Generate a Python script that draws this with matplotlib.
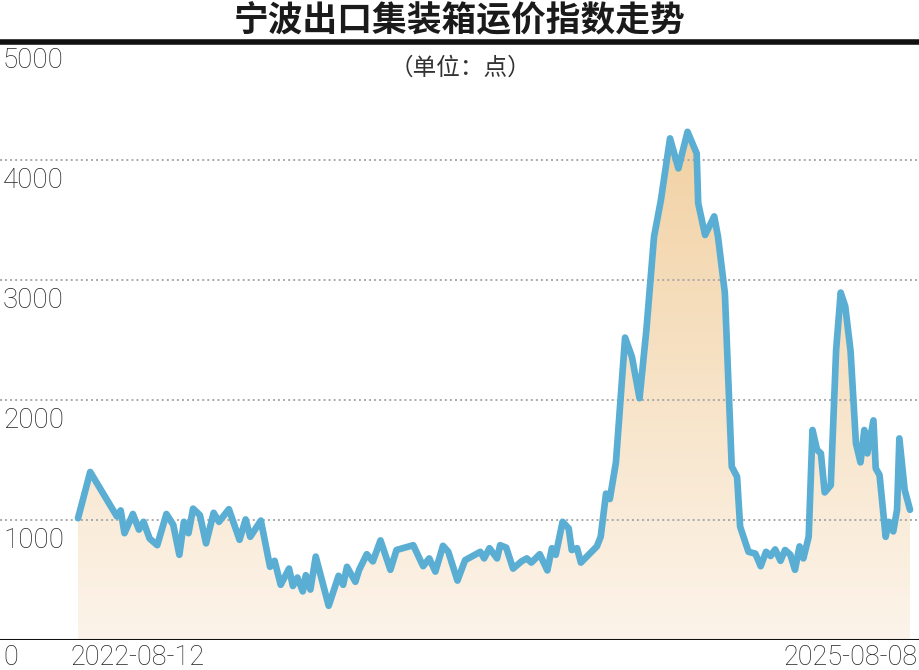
import numpy as np
import matplotlib
matplotlib.use('Agg')
import matplotlib.pyplot as plt
from matplotlib.colors import LinearSegmentedColormap
from matplotlib.lines import Line2D

# days after 2022-08-12 and index value (points)
days = [0, 16, 33, 51, 56, 61, 72, 80, 86, 94, 104, 116, 125, 133, 139, 145, 151, 160,
        168, 178, 185, 198, 212, 220, 226, 240, 252, 258, 266, 277, 282, 288, 295, 299,
        305, 312, 329, 342, 348, 353, 364, 369, 379, 387, 397, 410, 418, 440, 453, 461,
        469, 479, 486, 498, 508, 528, 533, 540, 550, 554, 562, 571, 582, 589, 595, 606,
        616, 622, 627, 636, 644, 648, 655, 660, 681, 686, 693, 698, 706, 718, 727, 737,
        746, 756, 765, 777, 788, 800, 812, 814, 823, 835, 840, 849, 858, 865, 869, 880,
        889, 896, 903, 909, 915, 922, 928, 935, 941, 947, 952, 959, 964, 970, 975, 980,
        988, 995, 1001, 1007, 1014, 1021, 1027, 1032, 1036, 1044, 1047, 1052, 1060, 1064,
        1070, 1075, 1078, 1085, 1092]
index_values = [1015, 1400, 1220, 1030, 1080, 890, 1050, 920, 985, 845, 790, 1050, 960, 710,
                985, 890, 1095, 1040, 805, 1060, 985, 1090, 835, 1005, 860, 995, 610, 660,
                460, 595, 450, 520, 405, 540, 420, 695, 285, 535, 460, 610, 485, 585, 715,
                655, 830, 585, 750, 790, 615, 680, 570, 785, 735, 495, 665, 735, 680, 765,
                680, 790, 770, 595, 655, 680, 645, 715, 580, 765, 710, 985, 930, 750, 765,
                645, 780, 860, 1220, 1175, 1480, 2520, 2360, 2015, 2585, 3360, 3665, 4180,
                3930, 4235, 4055, 3640, 3375, 3530, 3360, 2890, 1445, 1360, 945, 735, 720,
                615, 735, 700, 755, 660, 750, 710, 585, 780, 680, 860, 1750, 1585, 1555,
                1230, 1290, 2415, 2895, 2780, 2405, 1640, 1480, 1750, 1555, 1830, 1430, 1375,
                860, 985, 905, 1085, 1680, 1250, 1085]
y_ticks = [0, 1000, 2000, 3000, 4000, 5000]
date_labels = ['2022-08-12', '2025-08-08']
title = '宁波出口集装箱运价指数走势'
unit = '（单位：点）'

line_color = '#5aaed3'
num_font = 'Roboto'

fig = plt.figure(figsize=(9.2, 6.7), dpi=100)
ax = fig.add_axes([0, 30 / 670, 1, 600 / 670])
ax.axis('off')

x = np.array(days)
y = np.array(index_values)

# gradient fill under the line
poly = ax.fill_between(x, y, 0, color='none', lw=0)
cmap = LinearSegmentedColormap.from_list('warm', ['#fcf4ea', '#f2d1a3'])
grad = np.linspace(0, 1, 256).reshape(-1, 1)
im = ax.imshow(grad, cmap=cmap, origin='lower', aspect='auto',
               extent=[x[0], x[-1], 0, 4300], zorder=1)
im.set_clip_path(poly.get_paths()[0], transform=ax.transData)
ax.set_xlim(-102.4, 1105.1)
ax.set_ylim(0, 5000)

for v in y_ticks[1:-1]:
    ax.axhline(v, color='#a9a9a9', lw=1.4, ls=(0, (1, 1.6)), zorder=2)

ax.plot(x, y, color=line_color, lw=4.8, solid_joinstyle='round',
        solid_capstyle='round', zorder=3)
ax.axhline(0, color='#111111', lw=2.2, zorder=4)

for v in y_ticks:
    off = -4 if v == 0 else -7
    ax.annotate(str(v), xy=(0, v), xycoords=('axes fraction', 'data'),
                xytext=(3, off), textcoords='offset pixels', ha='left', va='top',
                fontsize=20 if v else 19.5, family=num_font, weight='light',
                color='#222222')

ax.annotate(date_labels[0], xy=(x[0], 0), xycoords=('data', 'data'),
            xytext=(-8, -4), textcoords='offset pixels', ha='left', va='top',
            fontsize=19.5, family=num_font, weight='light', color='#222222')
ax.annotate(date_labels[1], xy=(x[-1], 0), xycoords=('data', 'data'),
            xytext=(8, -4), textcoords='offset pixels', ha='right', va='top',
            fontsize=19.5, family=num_font, weight='light', color='#222222')

fig.add_artist(Line2D([0, 1], [1 - 42 / 670] * 2, transform=fig.transFigure,
                      color='#111111', lw=4))
fig.text(0.5, 1 - 21 / 670, title, ha='center', va='center', fontsize=25,
         weight='bold', family=['Noto Sans CJK SC', 'DejaVu Sans'], color='#1a1a1a')
fig.text(0.5, 1 - 68 / 670, unit, ha='center', va='center', fontsize=17,
         family=['Noto Sans CJK SC', 'DejaVu Sans'], color='#333333')

fig.savefig('out.png', dpi=100, facecolor='white')
